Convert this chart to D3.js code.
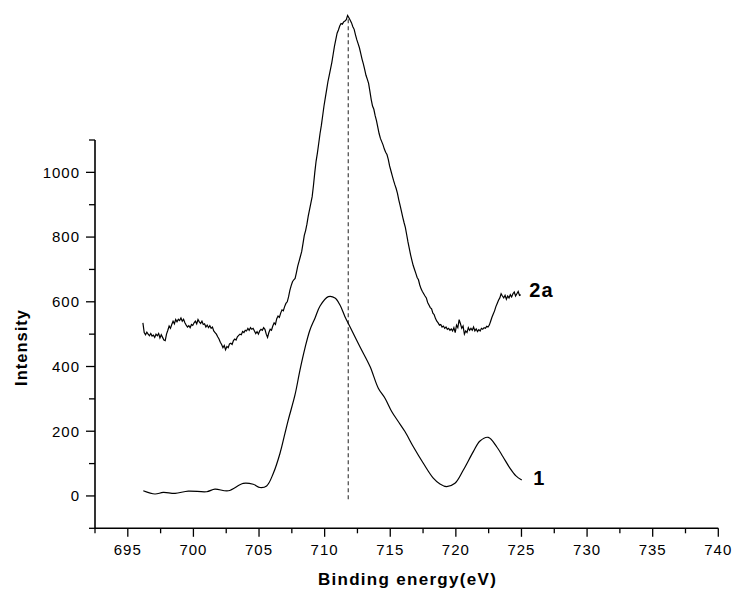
<!DOCTYPE html>
<html>
<head>
<meta charset="utf-8">
<script src="https://cdn.jsdelivr.net/npm/d3@7"></script>
<style>
  html, body { margin: 0; padding: 0; background: #fff; }
  svg { display: block; }
  text { font-family: Arial, "Liberation Sans", sans-serif; fill: #000; }
</style>
</head>
<body>
<svg id="chart" width="735" height="591"></svg>
<script>
// XPS spectra: binding energy (eV) vs. intensity
const xTicks = [695, 700, 705, 710, 715, 720, 725, 730, 735, 740];
const yTicks = [0, 200, 400, 600, 800, 1000];

// sample 1 (smooth curve)
const energy1 = [696.18, 697.07, 697.7, 698.6, 699.61, 701.01, 701.64, 702.66, 703.8, 704.56,
  705.07, 705.58, 706.09, 706.6, 706.98, 707.23, 707.74, 708.12, 708.5, 708.88,
  709.27, 709.65, 710.28, 710.79, 711.17, 711.55, 711.93, 712.69, 713.46, 714.09,
  714.6, 715.11, 715.61, 716.12, 716.76, 717.52, 718.28, 718.79, 719.3, 719.93,
  720.57, 721.33, 721.84, 722.47, 723.11, 723.59, 724.12, 724.58, 725.02];
const intensity1 = [16, 6, 11, 8, 15, 13, 21, 16, 39, 36,
  26, 31, 70, 132, 194, 235, 312, 389, 457, 513,
  550, 587, 616, 612, 590, 554, 523, 461, 400, 333,
  302, 261, 230, 199, 152, 101, 55, 37, 29, 39,
  80, 137, 170, 181, 152, 121, 86, 62, 49];

// sample 2a (noisy curve), 0.1 eV steps from 696.15 eV
const energy2aStart = 696.15;
const energy2aStep = 0.1;
const intensity2a = [
  535, 505, 498, 506, 500, 495, 502, 494, 497, 490,
  500, 495, 502, 488, 498, 490, 482, 480, 500, 512,
  525, 518, 530, 540, 532, 545, 538, 546, 542, 550,
  540, 546, 535, 528, 522, 526, 520, 530, 527, 535,
  540, 532, 545, 538, 533, 540, 530, 532, 522, 528,
  520, 526, 518, 522, 510, 505, 500, 492, 485, 475,
  468, 458, 465, 452, 462, 458, 470, 472, 468, 480,
  485, 482, 492, 496, 500, 498, 508, 505, 512, 510,
  518, 512, 520, 515, 518, 510, 502, 508, 500, 510,
  515, 512, 520, 515, 500, 490, 505, 515, 512, 525,
  535, 530, 548, 556, 552, 565, 575, 572, 585, 595,
  600, 615, 635, 650, 662, 668, 672, 690, 710, 725,
  740, 755, 780, 805, 820, 840, 865, 885, 905, 925,
  960, 1000, 1035, 1060, 1090, 1120, 1145, 1175, 1205, 1230,
  1255, 1280, 1300, 1320, 1340, 1365, 1390, 1410, 1430, 1440,
  1452, 1460, 1458, 1465, 1468, 1472, 1485, 1478, 1470, 1462,
  1450, 1442, 1425, 1410, 1398, 1385, 1368, 1350, 1335, 1318,
  1300, 1288, 1275, 1250, 1225, 1205, 1195, 1175, 1160, 1140,
  1120, 1105, 1095, 1085, 1072, 1062, 1055, 1040, 1020, 1005,
  990, 975, 962, 950, 935, 915, 898, 880, 862, 845,
  830, 808, 785, 765, 745, 728, 712, 700, 688, 675,
  668, 652, 640, 632, 625, 618, 612, 598, 590, 582,
  578, 565, 560, 548, 540, 535, 528, 530, 522, 525,
  518, 522, 515, 518, 512, 516, 510, 520, 505, 528,
  520, 545, 532, 518, 525, 500, 510, 505, 520, 512,
  518, 512, 522, 510, 516, 508, 514, 510, 518, 515,
  520, 518, 524, 522, 528, 540, 552, 562, 572, 585,
  595, 605, 612, 625, 618, 612, 620, 608, 618, 612,
  622, 615, 625, 630, 618, 625, 632, 620, 622];

// reference line at the 2a maximum
const refEnergy = 711.8;
const refRange = [-10, 1482];

const seriesLabels = [
  { text: "2a", energy: 725.6, value: 615 },
  { text: "1", energy: 725.9, value: 33 }
];

const svg = d3.select("#chart");
const x = d3.scaleLinear().domain([692.5, 740]).range([95, 718.3]);
const y = d3.scaleLinear().domain([-100, 1100]).range([528.3, 140]);

const data1 = energy1.map((e, i) => [e, intensity1[i]]);
const data2a = intensity2a.map((v, i) => [energy2aStart + i * energy2aStep, v]);

// x axis with minor ticks
const xAxisG = svg.append("g").attr("transform", `translate(0,${y.range()[0]})`);
xAxisG.append("line")
  .attr("x1", x.range()[0]).attr("x2", x.range()[1])
  .attr("stroke", "#000").attr("stroke-width", 1.6);
const xMinor = d3.range(695, 740, 5).map(v => v - 2.5).concat([737.5]);
xAxisG.selectAll(".xminor").data(xMinor).join("line")
  .attr("x1", d => x(d)).attr("x2", d => x(d))
  .attr("y1", 0).attr("y2", 5)
  .attr("stroke", "#000").attr("stroke-width", 1.3);
xAxisG.selectAll(".xmajor").data(xTicks).join("line")
  .attr("x1", d => x(d)).attr("x2", d => x(d))
  .attr("y1", 0).attr("y2", 8.5)
  .attr("stroke", "#000").attr("stroke-width", 1.3);
xAxisG.selectAll(".xlab").data(xTicks).join("text")
  .attr("x", d => x(d)).attr("y", 26.5)
  .attr("text-anchor", "middle")
  .style("font-size", "15px").style("letter-spacing", "1px")
  .text(d => d);

// y axis with minor ticks
const yAxisG = svg.append("g").attr("transform", `translate(${x.range()[0]},0)`);
yAxisG.append("line")
  .attr("y1", y.range()[0]).attr("y2", y.range()[1])
  .attr("stroke", "#000").attr("stroke-width", 1.6);
const yMinor = [-100, 100, 300, 500, 700, 900, 1100];
yAxisG.selectAll(".yminor").data(yMinor).join("line")
  .attr("y1", d => y(d)).attr("y2", d => y(d))
  .attr("x1", 0).attr("x2", -6)
  .attr("stroke", "#000").attr("stroke-width", 1.3);
yAxisG.selectAll(".ymajor").data(yTicks).join("line")
  .attr("y1", d => y(d)).attr("y2", d => y(d))
  .attr("x1", 0).attr("x2", -9)
  .attr("stroke", "#000").attr("stroke-width", 1.3);
yAxisG.selectAll(".ylab").data(yTicks).join("text")
  .attr("x", -15).attr("y", d => y(d) + 5.3)
  .attr("text-anchor", "end")
  .style("font-size", "15px").style("letter-spacing", "1px")
  .text(d => d);

// axis titles
svg.append("text")
  .attr("x", 407.5).attr("y", 585)
  .attr("text-anchor", "middle")
  .style("font-size", "17px").style("font-weight", "bold").style("letter-spacing", "1.3px")
  .text("Binding energy(eV)");
svg.append("text")
  .attr("transform", "translate(26.5,347.5) rotate(-90)")
  .attr("text-anchor", "middle")
  .style("font-size", "16.5px").style("font-weight", "bold").style("letter-spacing", "1px")
  .text("Intensity");

// dashed reference line
svg.append("line")
  .attr("x1", x(refEnergy)).attr("x2", x(refEnergy))
  .attr("y1", y(refRange[0])).attr("y2", y(refRange[1]))
  .attr("stroke", "#444").attr("stroke-width", 1.2)
  .attr("stroke-dasharray", "4,3");

// spectra
const lineSmooth = d3.line().x(d => x(d[0])).y(d => y(d[1])).curve(d3.curveCatmullRom.alpha(0.5));
const lineRaw = d3.line().x(d => x(d[0])).y(d => y(d[1]));
svg.append("path").datum(data1)
  .attr("d", lineSmooth).attr("fill", "none").attr("stroke", "#000").attr("stroke-width", 1.2);
svg.append("path").datum(data2a)
  .attr("d", lineRaw).attr("fill", "none").attr("stroke", "#000").attr("stroke-width", 1.2);

// series labels
svg.selectAll(".slab").data(seriesLabels).join("text")
  .attr("x", d => x(d.energy)).attr("y", d => y(d.value))
  .style("font-size", "20px").style("font-weight", "bold").style("letter-spacing", "1px")
  .text(d => d.text);
</script>
</body>
</html>
